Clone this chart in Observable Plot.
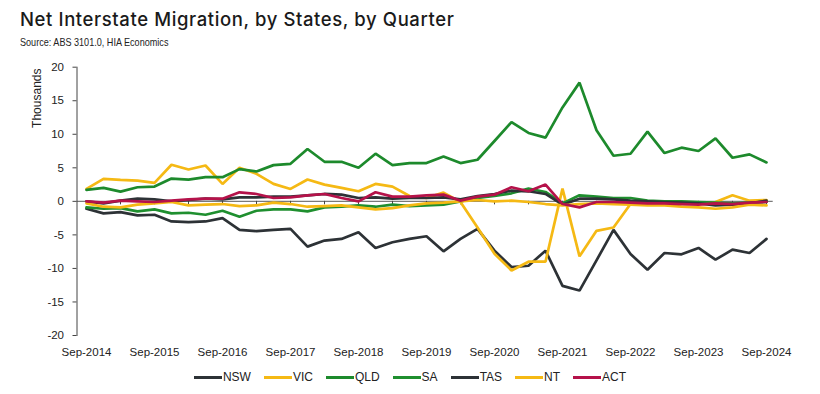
<!DOCTYPE html>
<html><head><meta charset="utf-8">
<script src="https://cdn.jsdelivr.net/npm/d3@7"></script>
<script src="https://cdn.jsdelivr.net/npm/@observablehq/plot@0.6"></script>
<style>
html,body{margin:0;padding:0;background:#fff;}
#wrap{width:820px;height:394px;position:relative;overflow:hidden;font-family:"Liberation Sans",Arial,sans-serif;color:#222;}
#head{height:50px;position:relative;}
#title{position:absolute;left:20px;top:8px;font-family:Inter,"Open Sans",sans-serif;font-size:18.5px;letter-spacing:0.6px;font-weight:500;color:#1a1a1a;white-space:nowrap;}
#sub{position:absolute;left:20px;top:36px;font-family:"Liberation Sans",Arial,sans-serif;font-size:10.5px;color:#222;white-space:nowrap;transform:scaleX(0.865);transform-origin:0 0;}
#chart svg{display:block;}
#legend{position:absolute;left:0;top:369px;width:820px;height:16px;display:flex;justify-content:center;align-items:center;font-size:12px;color:#222;}
.item{display:flex;align-items:center;margin:0 6.5px;}
.sw{width:28px;height:3px;margin-right:1px;}
</style></head>
<body>
<div id="wrap">
  <div id="head">
    <div id="title">Net Interstate Migration, by States, by Quarter</div>
    <div id="sub">Source: ABS 3101.0, HIA Economics</div>
  </div>
  <div id="chart"></div>
  <div id="legend"></div>
</div>
<script>
const quarters = ["2014-09","2014-12","2015-03","2015-06","2015-09","2015-12","2016-03","2016-06","2016-09","2016-12",
  "2017-03","2017-06","2017-09","2017-12","2018-03","2018-06","2018-09","2018-12","2019-03","2019-06",
  "2019-09","2019-12","2020-03","2020-06","2020-09","2020-12","2021-03","2021-06","2021-09","2021-12",
  "2022-03","2022-06","2022-09","2022-12","2023-03","2023-06","2023-09","2023-12","2024-03","2024-06","2024-09"];
const xTickQuarters = ["2014-09","2015-09","2016-09","2017-09","2018-09","2019-09","2020-09","2021-09","2022-09","2023-09","2024-09"];
const xTickLabels = ["Sep-2014","Sep-2015","Sep-2016","Sep-2017","Sep-2018","Sep-2019","Sep-2020","Sep-2021","Sep-2022","Sep-2023","Sep-2024"];
const yTicks = [-20,-15,-10,-5,0,5,10,15,20];

const seriesNames = ["NSW","VIC","QLD","SA","TAS","NT","ACT"];
const NSW = [-1.1,-1.8,-1.6,-2.1,-2.0,-3.0,-3.1,-3.0,-2.5,-4.25,-4.45,-4.25,-4.1,-6.75,-5.85,-5.6,-4.6,-6.95,-6.1,-5.6,-5.2,-7.45,-5.6,-4.1,-7.35,-9.8,-9.6,-7.35,-12.6,-13.3,-8.8,-4.25,-7.85,-10.2,-7.7,-7.9,-6.95,-8.7,-7.2,-7.7,-5.6];
const VIC = [1.85,3.35,3.2,3.1,2.75,5.45,4.75,5.35,2.6,5.0,4.1,2.6,1.85,3.25,2.5,2.0,1.5,2.6,2.2,0.8,0.5,1.3,-0.1,-3.9,-7.8,-10.3,-9.0,-9.0,1.9,-8.2,-4.4,-3.9,-0.4,-0.3,-0.4,-0.3,-0.2,-0.1,0.9,0.1,0.2];
const QLD = [1.7,2.0,1.45,2.1,2.2,3.4,3.25,3.6,3.6,4.8,4.45,5.4,5.6,7.8,5.9,5.9,5.0,7.1,5.4,5.7,5.7,6.7,5.7,6.2,9.0,11.8,10.2,9.5,14.0,17.7,10.6,6.8,7.1,10.4,7.2,8.0,7.5,9.4,6.5,7.0,5.8];
const SA  = [-0.9,-1.1,-1.0,-1.5,-1.2,-1.8,-1.7,-2.0,-1.4,-2.3,-1.4,-1.2,-1.2,-1.5,-0.9,-0.8,-0.6,-0.8,-0.5,-0.7,-0.6,-0.5,0.0,0.5,0.8,1.2,1.9,1.4,-0.3,0.9,0.7,0.5,0.5,0.1,0.0,0.0,-0.1,-0.2,-0.3,-0.2,-0.1];
const TAS = [0.0,-0.3,0.1,0.4,0.3,0.0,0.2,0.4,0.3,0.6,0.6,0.7,0.7,0.9,1.1,1.0,0.5,0.6,0.4,0.5,0.5,0.6,0.3,0.8,1.1,1.6,1.5,1.1,-0.5,0.4,0.4,0.3,0.1,0.0,-0.1,-0.2,-0.3,-0.6,-0.5,-0.3,0.1];
const NT  = [-0.3,-0.8,-0.9,-0.5,-0.3,-0.1,-0.6,-0.5,-0.4,-0.7,-0.6,-0.2,-0.4,-0.8,-0.7,-0.6,-0.9,-1.2,-1.0,-0.6,-0.3,-0.2,0.0,0.2,0.0,0.1,-0.1,-0.4,-0.6,-0.4,-0.3,-0.4,-0.5,-0.6,-0.6,-0.8,-0.9,-1.1,-0.9,-0.5,-0.6];
const ACT = [0.0,-0.2,0.1,0.0,-0.1,0.1,0.3,0.4,0.4,1.35,1.1,0.5,0.6,0.9,1.1,0.5,0.0,1.35,0.7,0.7,0.9,1.0,0.1,0.7,1.0,2.1,1.5,2.5,-0.4,-0.9,-0.1,-0.1,-0.2,-0.3,-0.3,-0.4,-0.5,-0.3,-0.4,-0.2,-0.1];
const seriesValues = [NSW, VIC, QLD, SA, TAS, NT, ACT];

const colors = {NSW:"#2d3236", VIC:"#f5b914", QLD:"#1d8a2c", SA:"#1f8f2f", TAS:"#2d3236", NT:"#f5b914", ACT:"#b5124a"};

const rows = [];
seriesNames.forEach((name, s) => seriesValues[s].forEach((v, i) => rows.push({name, q: quarters[i], v})));
const minorTicks = quarters.filter((q, i) => i > 0 && i % 2 === 0);
const labelOf = new Map(xTickQuarters.map((q, i) => [q, xTickLabels[i]]));

const chart = Plot.plot({
  width: 820, height: 320,
  marginLeft: 76.5, marginRight: 47.3, marginTop: 16.7, marginBottom: 35,
  style: {fontFamily: '"Liberation Sans", Arial, sans-serif', fontSize: "11.5px", color: "#222", background: "white"},
  x: {type: "point", domain: quarters, padding: 0, insetLeft: 3},
  y: {domain: [-20, 20]},
  marks: [
    Plot.ruleY([0], {stroke: "#7a7a7a", strokeWidth: 1.2}),
    Plot.ruleX(minorTicks, {x: d => d, y1: 0, y2: 0, insetBottom: -3.5, stroke: "#444"}),
    Plot.axisY({ticks: yTicks, tickSize: 4, tickPadding: 9, tickFormat: d => String(d), label: null, stroke: "#444"}),
    Plot.frame({anchor: "left", stroke: "#444"}),
    Plot.axisX({ticks: xTickQuarters, tickSize: 0, tickPadding: 12, tickFormat: q => labelOf.get(q), label: null}),
    Plot.text(["Thousands"], {frameAnchor: "top-left", rotate: -90, dx: -39.5, dy: 31, fontSize: 12, textAnchor: "middle", lineAnchor: "middle"}),
    ...seriesNames.map(name => Plot.line(rows.filter(r => r.name === name), {x: "q", y: "v", stroke: colors[name], strokeWidth: 2.7, strokeLinejoin: "miter"}))
  ]
});
document.getElementById("chart").append(chart);

const legend = d3.select("#legend");
seriesNames.forEach(name => {
  const it = legend.append("div").attr("class", "item");
  it.append("div").attr("class", "sw").style("background", colors[name]);
  it.append("span").text(name);
});
</script>
</body></html>
